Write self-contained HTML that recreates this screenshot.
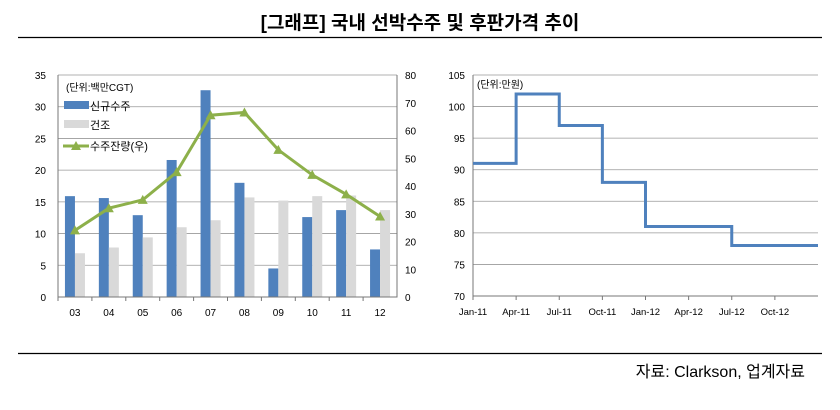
<!DOCTYPE html>
<html><head><meta charset="utf-8"><style>
body{margin:0;background:#fff;width:840px;height:405px;overflow:hidden}
svg{font-family:"Liberation Sans","Noto Sans CJK KR",sans-serif}
</style></head><body>
<svg id="s" width="840" height="405">
<text x="420" y="29" text-anchor="middle" font-size="19" font-weight="bold">[그래프] 국내 선박수주 및 후판가격 추이</text>
<line x1="18" y1="37.5" x2="822" y2="37.5" stroke="#000" stroke-width="1.2"/>
<line x1="18" y1="353.5" x2="822" y2="353.5" stroke="#000" stroke-width="1.2"/>
<text x="805" y="377" text-anchor="end" font-size="16">자료: Clarkson, 업계자료</text>
<g id="L"></g>
<g id="R"></g>
</svg>
<script>
const cats=["03","04","05","06","07","08","09","10","11","12"];
const newOrders=[15.9,15.6,12.9,21.6,32.6,18.0,4.5,12.6,13.7,7.5];
const built=[6.9,7.8,9.4,11.0,12.1,15.7,15.2,15.9,16.0,13.7];
const backlog=[24,32,35,45,65.5,66.5,53,44,37,29];
const leftTicks=[0,5,10,15,20,25,30,35];
const rightTicks=[0,10,20,30,40,50,60,70,80];
const priceDates=["Jan-11","Apr-11","Jul-11","Oct-11","Jan-12","Apr-12","Jul-12","Oct-12"];
const stepMonths=[0,3,6,9,12,18,24];
const stepPrices=[91,102,97,88,81,78];
const priceTicks=[70,75,80,85,90,95,100,105];
const NS="http://www.w3.org/2000/svg";
function mk(p,t,a,txt){const e=document.createElementNS(NS,t);for(const k in a)e.setAttribute(k,a[k]);if(txt!==undefined)e.textContent=txt;p.appendChild(e);return e;}
// Left chart
const L=document.getElementById('L');
const x0=58,x1=397,y0=297,yT=75;
const yl=v=>y0-(v/35)*(y0-yT), yr=v=>y0-(v/80)*(y0-yT);
const slot=(x1-x0)/cats.length, xc=i=>x0+slot*(i+0.5);
leftTicks.forEach(t=>{
 if(t>0){const g=mk(L,'line',{x1:x0,x2:x1,y1:yl(t),y2:yl(t),stroke:'#999','stroke-width':0.8});
 }
 const tx=mk(L,'text',{x:x0-12,y:yl(t)+4,'text-anchor':'end','font-size':10},t);
 
});
rightTicks.forEach(t=>{
 const tx=mk(L,'text',{x:x1+8,y:yr(t)+4,'font-size':10},t);
 
});
cats.forEach((c,i)=>{
 const b=mk(L,'rect',{x:xc(i)-10,y:yl(newOrders[i]),width:10,height:y0-yl(newOrders[i]),fill:'#4f81bd'});
 
 const g=mk(L,'rect',{x:xc(i),y:yl(built[i]),width:10,height:y0-yl(built[i]),fill:'#d9d9d9'});
 
 const tx=mk(L,'text',{x:xc(i),y:y0+19,'text-anchor':'middle','font-size':10},c);
 
 const tk=mk(L,'line',{x1:x0+slot*i,x2:x0+slot*i,y1:y0,y2:y0+4,stroke:'#777'});
 
});
const ax=mk(L,'path',{d:`M${x0},${yT}V${y0}H${x1}V${yT}`,fill:'none',stroke:'#777'});

const pl=mk(L,'polyline',{points:backlog.map((v,i)=>xc(i)+','+yr(v)).join(' '),fill:'none',stroke:'#8db04a','stroke-width':3});

backlog.forEach((v,i)=>{const x=xc(i),y=yr(v);
 const m=mk(L,'path',{d:`M${x},${y-5}L${x+5},${y+4}L${x-5},${y+4}Z`,fill:'#8db04a'});
 });
// legend
const lg=mk(L,'g',{});
mk(lg,'text',{x:66,y:91,'font-size':10},'(단위:백만CGT)');
mk(lg,'rect',{x:64,y:101,width:25,height:8,fill:'#4f81bd'});
mk(lg,'text',{x:90,y:110,'font-size':11},'신규수주');
mk(lg,'rect',{x:64,y:120,width:25,height:8,fill:'#d9d9d9'});
mk(lg,'text',{x:90,y:129,'font-size':11},'건조');
mk(lg,'line',{x1:63,x2:89,y1:146,y2:146,stroke:'#8db04a','stroke-width':3});
mk(lg,'path',{d:'M76,141L81,150L71,150Z',fill:'#8db04a'});
mk(lg,'text',{x:90,y:150,'font-size':11},'수주잔량(우)');
// Right chart
const R=document.getElementById('R');
const rx0=473,rx1=818,ry0=296,ryT=75;
const py=v=>ry0-(v-70)/35*(ry0-ryT), px=m=>rx0+m/24*(rx1-rx0);
priceTicks.forEach(t=>{
 if(t>70){const g=mk(R,'line',{x1:rx0,x2:rx1,y1:py(t),y2:py(t),stroke:'#999','stroke-width':0.8});
 }
 const tx=mk(R,'text',{x:rx0-8,y:py(t)+4,'text-anchor':'end','font-size':10},t);
 
});
priceDates.forEach((d,i)=>{
 const tk=mk(R,'line',{x1:px(i*3),x2:px(i*3),y1:ry0,y2:ry0+4,stroke:'#777'});
 
 const tx=mk(R,'text',{x:px(i*3),y:ry0+19,'text-anchor':'middle','font-size':9.5},d);
 
});
const rax=mk(R,'path',{d:`M${rx0},${ryT}V${ry0}H${rx1}`,fill:'none',stroke:'#777'});

let d='';stepPrices.forEach((p,i)=>{d+=(i?'L':'M')+px(stepMonths[i])+','+py(p)+'L'+px(stepMonths[i+1])+','+py(p);});
const sp=mk(R,'path',{d:d,fill:'none',stroke:'#4f81bd','stroke-width':3});

const ut=mk(R,'text',{x:477,y:88,'font-size':10},'(단위:만원)');

</script>
</body></html>
